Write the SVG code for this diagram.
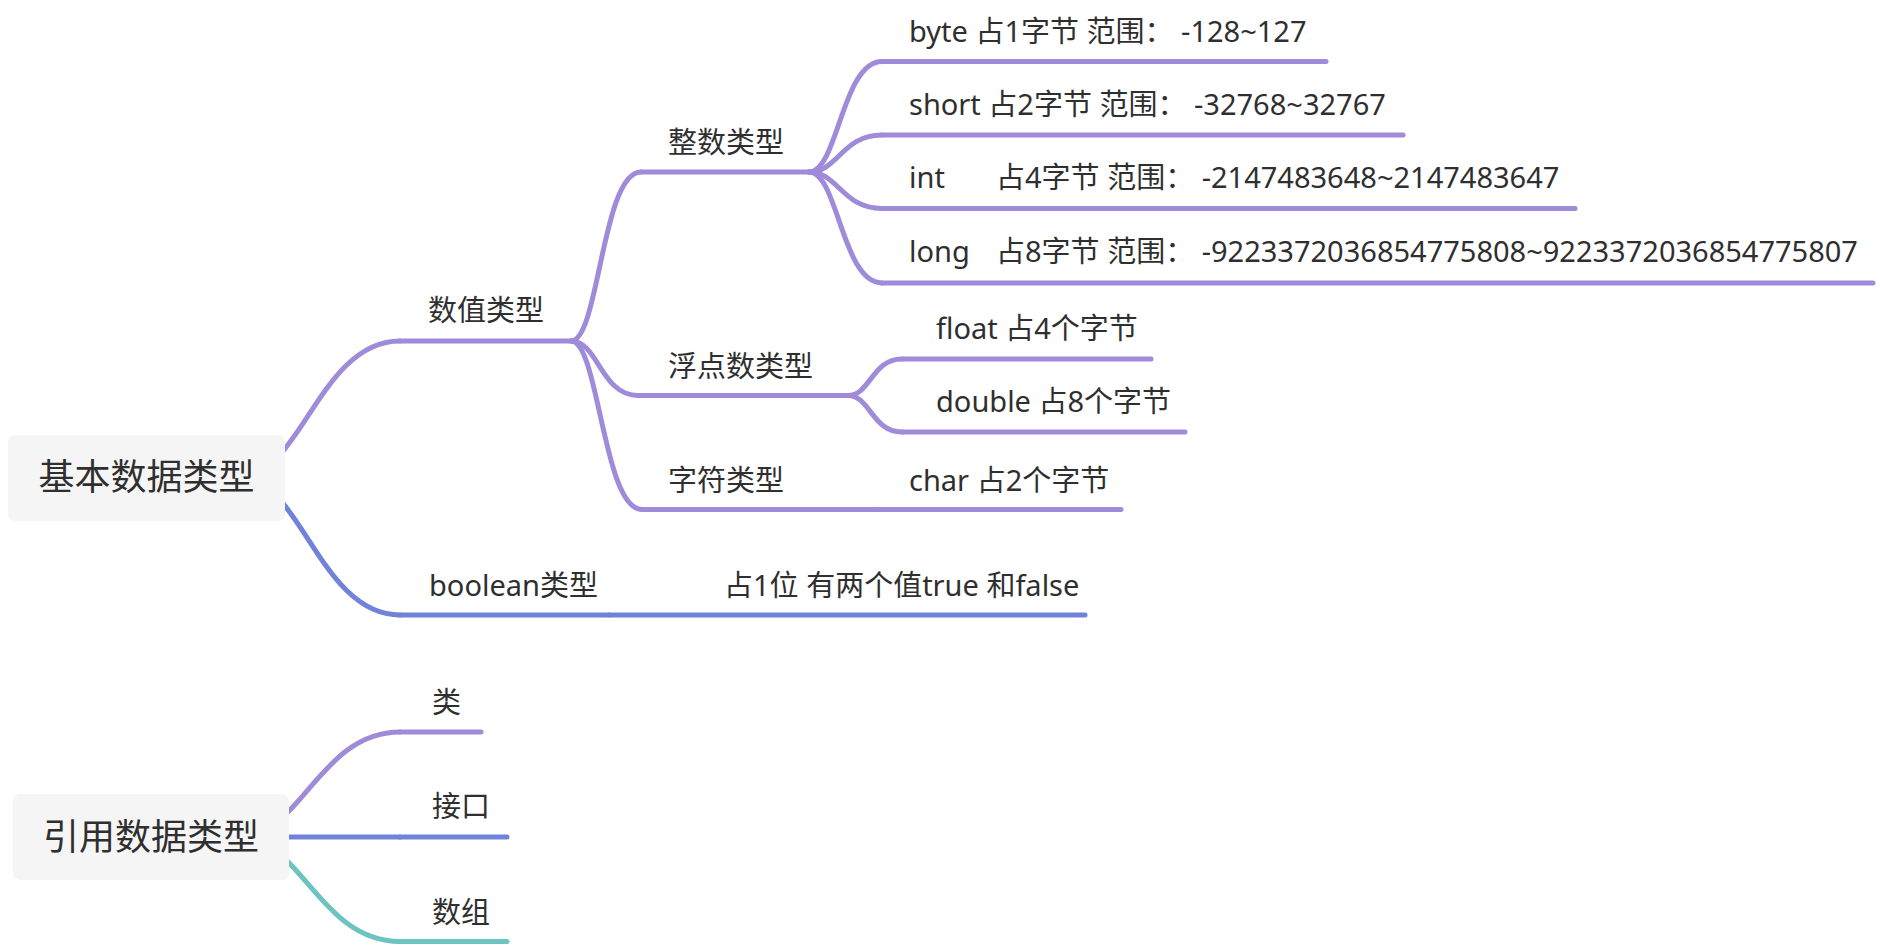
<svg xmlns="http://www.w3.org/2000/svg" width="1880" height="946" viewBox="0 0 1880 946">
<style>
text{font-family:"Noto Sans","Noto Sans CJK SC",sans-serif;fill:#2f2f2f;}
.t{font-size:29px;}
.r{font-size:36px;text-anchor:middle;}
.box{fill:#f5f5f5;}
.l{fill:none;stroke-width:5;stroke-linecap:round;}
.p{stroke:#a08ada;}
.b{stroke:#7083d8;}
.g{stroke:#6cc4c0;}
</style>
<rect width="1880" height="946" fill="#fff"/>
<g id="connectors">
<path class="l p" d="M240,477 C300,477 320,341 400,341"/>
<path class="l b" d="M240,477 C300,477 320,615 400,615"/>
<path class="l p" d="M571,341 C599,341 602,172 641,172"/>
<path class="l p" d="M571,341 C598,341 601,395.5 638,395.5"/>
<path class="l p" d="M571,341 C599,341 603,509.5 642,509.5"/>
<path class="l p" d="M809,172 C838,172 842,61.5 882,61.5"/>
<path class="l p" d="M809,172 C838,172 842,135 882,135"/>
<path class="l p" d="M809,172 C838,172 842,208.5 882,208.5"/>
<path class="l p" d="M809,172 C838,172 842,283 882,283"/>
<path class="l p" d="M848,395.5 C870,395.5 872,359 902,359"/>
<path class="l p" d="M848,395.5 C870,395.5 872,432 902,432"/>
<path class="l p" d="M240,837 C300,837 320,732 400,732"/>
<path class="l b" d="M240,837 H400"/>
<path class="l g" d="M240,837 C300,837 320,941.5 400,941.5"/>
</g>
<g id="root1">
<rect class="box" x="8" y="435" width="277" height="86" rx="7"/>
<text class="r" x="146.5" y="490">基本数据类型</text>
</g>
<g id="n-numeric">
<path class="l p" d="M400,341 H571"/>
<text class="t" x="428" y="321">数值类型</text>
</g>
<g id="n-integer">
<path class="l p" d="M641,172 H809"/>
<text class="t" x="668" y="153">整数类型</text>
</g>
<g id="n-byte">
<path class="l p" d="M882,61.5 H1326"/>
<text class="t" x="909" y="42">byte 占1字节 范围： -128~127</text>
</g>
<g id="n-short">
<path class="l p" d="M882,135 H1403"/>
<text class="t" x="909" y="115">short 占2字节 范围： -32768~32767</text>
</g>
<g id="n-int">
<path class="l p" d="M882,208.5 H1575"/>
<text class="t" x="909" y="188">int<tspan x="996">占4字节 范围： -2147483648~2147483647</tspan></text>
</g>
<g id="n-long">
<path class="l p" d="M882,283 H1873"/>
<text class="t" x="909" y="262">long<tspan x="996">占8字节 范围： -9223372036854775808~9223372036854775807</tspan></text>
</g>
<g id="n-float-type">
<path class="l p" d="M638,395.5 H848"/>
<text class="t" x="668" y="377">浮点数类型</text>
</g>
<g id="n-float">
<path class="l p" d="M902,359 H1151"/>
<text class="t" x="936" y="339">float 占4个字节</text>
</g>
<g id="n-double">
<path class="l p" d="M902,432 H1185"/>
<text class="t" x="936" y="412">double 占8个字节</text>
</g>
<g id="n-char-type">
<path class="l p" d="M642,509.5 H880"/>
<text class="t" x="668" y="491">字符类型</text>
</g>
<g id="n-char">
<path class="l p" d="M880,509.5 H1121"/>
<text class="t" x="909" y="491">char 占2个字节</text>
</g>
<g id="n-boolean">
<path class="l b" d="M400,615 H609"/>
<text class="t" x="429" y="596">boolean类型</text>
</g>
<g id="n-boolean-desc">
<path class="l b" d="M609,615 H1085"/>
<text class="t" x="724" y="596">占1位 有两个值true 和false</text>
</g>
<g id="root2">
<rect class="box" x="13" y="794" width="276" height="86" rx="7"/>
<text class="r" x="151" y="850">引用数据类型</text>
</g>
<g id="n-class">
<path class="l p" d="M400,732 H481"/>
<text class="t" x="432" y="713">类</text>
</g>
<g id="n-interface">
<path class="l b" d="M400,837 H507"/>
<text class="t" x="432" y="817">接口</text>
</g>
<g id="n-array">
<path class="l g" d="M400,941.5 H507"/>
<text class="t" x="432" y="923">数组</text>
</g>
</svg>
